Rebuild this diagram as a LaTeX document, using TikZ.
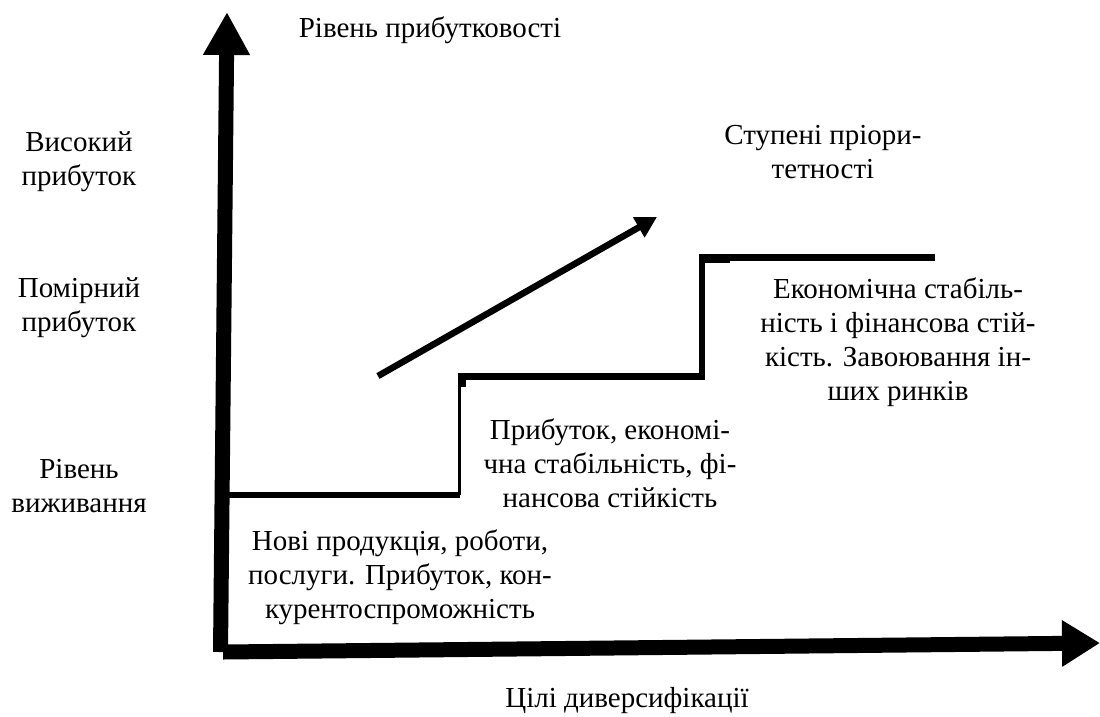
\documentclass[tikz,border=0pt]{standalone}
\usepackage{fontspec}
\setmainfont{Liberation Serif}
\usetikzlibrary{arrows.meta}

\begin{document}
\begin{tikzpicture}[x=1pt,y=-1pt,
    txt/.style={align=center,inner sep=0pt,font=\fontsize{29}{34}\selectfont},
    axis/.style={line width=15pt,line cap=butt},
    stair/.style={line width=6.5pt,line join=miter}]
  \useasboundingbox (0,0) rectangle (1100,716);
  % axes
  \coordinate (O) at (220.5,652);
  \coordinate (ytop) at (227,12);
  \coordinate (xo) at (223,652);
  \coordinate (xend) at (1100,643);
  \draw[axis,-{Triangle[length=43pt,width=44pt]}] (O) -- (ytop);
  \draw[axis,-{Triangle[length=38pt,width=44pt]}] (xo) -- (xend);
  % stairs
  \coordinate (s0) at (228,495);
  \coordinate (s1) at (459.5,495);
  \coordinate (s2) at (459.5,376.5);
  \coordinate (s3) at (702,376.5);
  \coordinate (s4) at (702,257.5);
  \coordinate (s5) at (935,257.5);
  \draw[stair] (s0) -- (s1);
  \draw[line width=3pt] (s1) -- (s2);
  \draw[stair] (s2) -- (s3) -- (s4) -- (s5);
  \fill (458,373) rectangle (466,387);
  \fill (699,254) rectangle (730,263);
  \coordinate (d0) at (378,376);
  \coordinate (d1) at (657,217);
  \draw[line width=6.5pt,-{Triangle[length=21pt,width=22pt]}] (d0) -- (d1);
  % labels
  \node[txt,anchor=base] (ylab) at (430,37) {Рівень прибутковості};
  \node[txt,anchor=base] (xlab) at (627,707) {Цілі диверсифікації};
  \node[txt] (high) at (79,161.5) {Високий\\прибуток};
  \node[txt] (mid) at (79,307.5) {Помірний\\прибуток};
  \node[txt] (low) at (79,486.5) {Рівень\\виживання};
  \node[txt] (prio) at (823,152.5) {Ступені пріори-\\тетності};
  \node[txt] (st1) at (400,577) {Нові продукція, роботи,\\послуги. Прибуток, кон-\\курентоспроможність};
  \node[txt] (st2) at (610,463) {Прибуток, економі-\\чна стабільність, фі-\\нансова стійкість};
  \node[txt] (st3) at (898,342.5) {Економічна стабіль-\\ність і фінансова стій-\\кість. Завоювання ін-\\ших ринків};
\end{tikzpicture}
\end{document}
